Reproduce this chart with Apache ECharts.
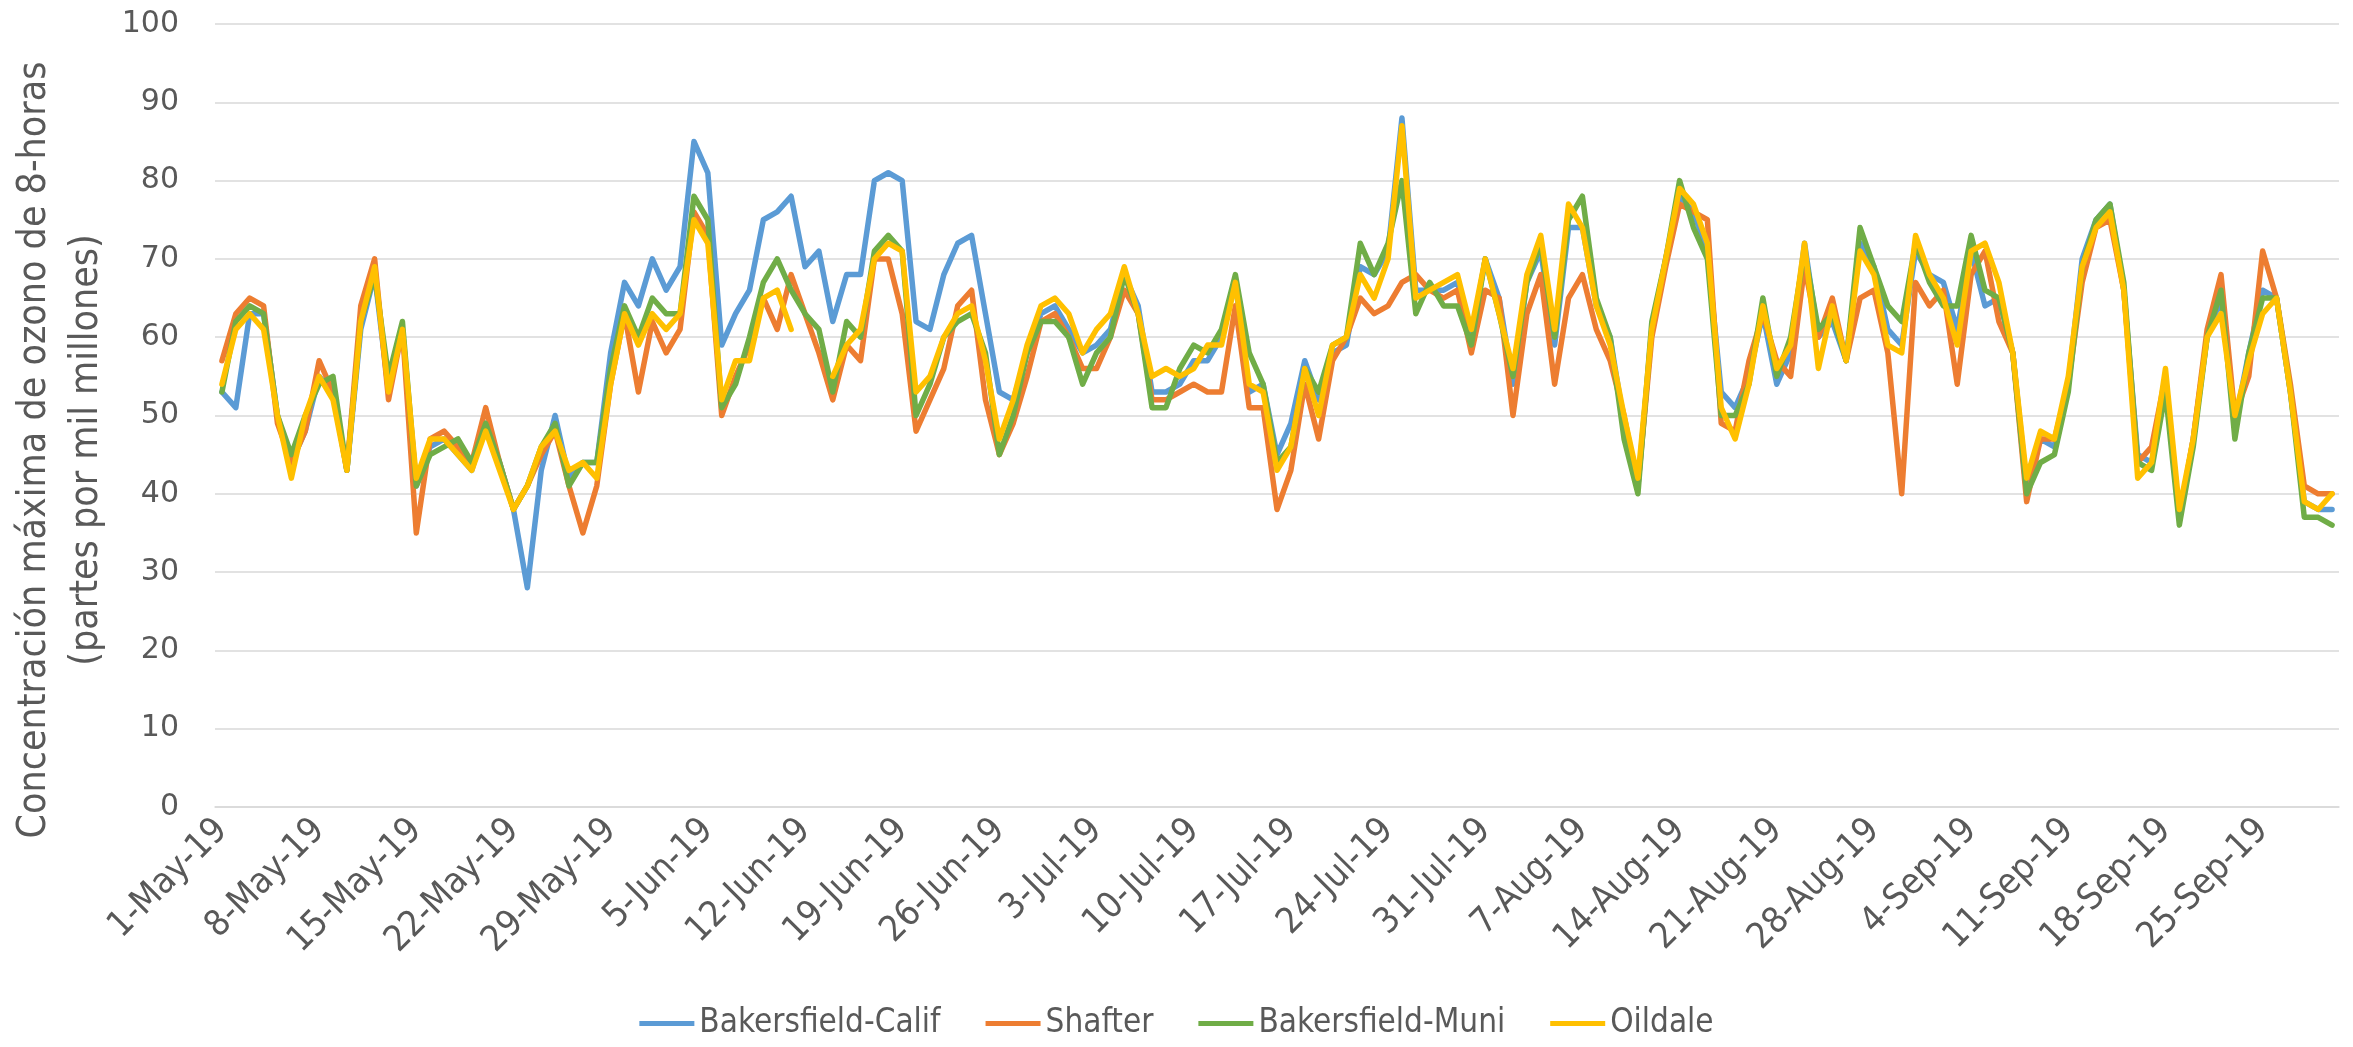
<!DOCTYPE html>
<html>
<head>
<meta charset="utf-8">
<script src="https://cdn.jsdelivr.net/npm/echarts@6/dist/echarts.min.js"></script>
<style>
html,body{margin:0;padding:0;background:#fff;}
#chart{width:2353px;height:1047px;}
</style>
</head>
<body>
<div id="chart"></div>
<script>
// Categories: daily dates 1-May-19 .. 30-Sep-19
var monthNames = ['May','Jun','Jul','Aug','Sep'];
var monthDays = [31,30,31,31,30];
var categories = [];
for (var m = 0; m < monthNames.length; m++) {
  for (var d = 1; d <= monthDays[m]; d++) {
    categories.push(d + '-' + monthNames[m] + '-19');
  }
}

var seriesNames = ['Bakersfield-Calif','Shafter','Bakersfield-Muni','Oildale'];

var bakersfieldCalif = [
53,51,63,63,50,44,48,55,53,43,61,68,53,61,41,46,47,45,43,49,
44,38,28,43,50,42,44,44,58,67,64,70,66,69,85,81,59,63,66,75,
76,78,69,71,62,68,68,80,81,80,62,61,68,72,73,63,53,52,58,63,
64,61,58,59,61,68,64,53,53,54,57,57,60,67,53,54,45,49,57,52,
58,59,69,68,71,88,66,66,66,67,60,70,65,54,67,71,59,74,74,64,
60,49,41,61,70,78,76,71,53,51,55,63,54,58,72,60,62,57,72,69,
61,59,71,68,67,61,71,64,65,58,41,47,46,54,70,75,77,66,45,44,
54,37,47,60,65,49,58,66,65,53,39,38,38];

var shafter = [
57,63,65,64,49,44,48,57,53,43,64,70,52,61,35,47,48,46,44,51,
44,38,41,45,48,41,35,41,54,63,53,62,58,61,76,73,50,55,59,65,
61,68,63,58,52,59,57,70,70,63,48,52,56,64,66,52,45,49,55,62,
63,60,56,56,60,66,63,52,52,53,54,53,53,64,51,51,38,43,54,47,
57,60,65,63,64,67,68,66,65,66,58,66,65,50,63,68,54,65,68,61,
57,50,41,60,69,77,76,75,49,48,57,63,57,55,69,60,65,57,65,66,
58,40,67,64,66,54,68,71,62,58,39,47,47,54,67,74,75,66,44,46,
55,37,47,61,68,50,55,71,65,54,41,40,40];

var bakersfieldMuni = [
53,62,64,63,50,45,50,54,55,43,62,68,55,62,41,45,46,47,44,49,
44,38,41,46,49,41,44,44,56,64,60,65,63,63,78,75,51,54,60,67,
70,66,63,61,53,62,60,71,73,71,50,54,60,62,63,58,45,50,58,62,
62,60,54,58,60,68,63,51,51,56,59,58,61,68,58,54,44,46,56,53,
59,60,72,68,72,80,63,67,64,64,59,70,63,55,67,72,60,75,78,65,
60,47,40,62,70,80,74,70,50,50,54,65,55,60,71,61,63,57,74,69,
64,62,72,67,64,64,73,66,65,58,40,44,45,53,69,75,77,67,44,43,
53,36,46,60,66,47,58,65,65,53,37,37,36];

var oildale = [
54,61,63,61,50,42,50,55,52,43,62,69,53,61,42,47,47,45,43,48,
43,38,41,46,48,43,44,42,54,63,59,63,61,63,75,72,52,57,57,65,
66,61,null,null,55,59,61,70,72,71,53,55,60,63,64,57,47,52,59,64,
65,63,58,61,63,69,63,55,56,55,56,59,59,67,54,53,43,46,56,50,
59,60,68,65,70,87,65,66,67,68,61,70,63,56,68,73,61,77,74,64,
59,50,42,61,70,79,77,72,51,47,54,64,56,59,72,56,64,57,71,68,
59,58,73,68,65,59,71,72,67,58,42,48,47,55,69,74,76,66,42,44,
56,38,47,60,63,50,57,63,65,53,39,38,40];

var yTicks = [0,10,20,30,40,50,60,70,80,90,100];

var colors = ['#5B9BD5','#ED7D31','#70AD47','#FFC000'];
var narrow = "'Liberation Sans Narrow','DejaVu Sans Condensed','Noto Sans',sans-serif";

var dataSets = [bakersfieldCalif, shafter, bakersfieldMuni, oildale];

var chart = echarts.init(document.getElementById('chart'), null, {renderer:'canvas'});
var option = {
  backgroundColor: '#ffffff',
  animation: false,
  color: colors,
  grid: {left: 215, right: 14, top: 24, bottom: 240, containLabel: false},
  legend: {
    bottom: 2,
    left: 'center',
    icon: 'rect',
    itemWidth: 55,
    itemHeight: 5,
    itemGap: 45,
    textStyle: {fontFamily: narrow, fontSize: 33, color: '#595959'},
    data: seriesNames
  },
  xAxis: {
    type: 'category',
    data: categories,
    boundaryGap: true,
    axisLine: {show: true, lineStyle: {color: '#D9D9D9', width: 1.5}},
    axisTick: {show: false},
    axisLabel: {
      interval: 6,
      rotate: 45,
      margin: 18,
      fontFamily: narrow,
      fontSize: 36,
      color: '#595959'
    },
    splitLine: {show: false}
  },
  yAxis: {
    type: 'value',
    min: yTicks[0],
    max: yTicks[yTicks.length - 1],
    interval: 10,
    axisLine: {show: false},
    axisTick: {show: false},
    axisLabel: {margin: 36, fontFamily: "'DejaVu Sans',sans-serif", fontSize: 30, color: '#595959'},
    splitLine: {show: true, lineStyle: {color: '#D9D9D9', width: 1.5}}
  },
  graphic: [{
    type: 'text',
    x: 61,
    y: 450,
    rotation: Math.PI / 2,
    style: {
      text: 'Concentración máxima de ozono de 8-horas\n(partes por mil millones)',
      fontFamily: narrow,
      fontSize: 39,
      lineHeight: 52,
      fill: '#595959',
      align: 'center',
      verticalAlign: 'middle'
    }
  }],
  series: seriesNames.map(function (name, i) {
    return {
      name: name,
      type: 'line',
      data: dataSets[i],
      symbol: 'none',
      showSymbol: false,
      connectNulls: false,
      lineStyle: {width: 5.5, color: colors[i], cap: 'round', join: 'round'},
      itemStyle: {color: colors[i]},
      z: 2 + i
    };
  })
};
chart.setOption(option);
</script>
</body>
</html>
